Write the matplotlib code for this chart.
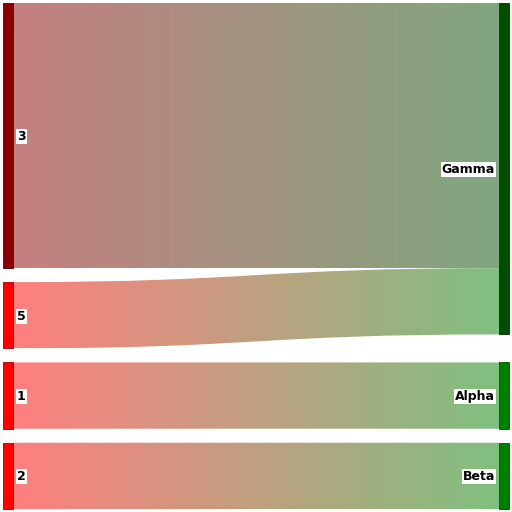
import numpy as np
import matplotlib
matplotlib.use("Agg")
import matplotlib.pyplot as plt
from matplotlib.path import Path
from matplotlib.patches import PathPatch, Rectangle
from matplotlib.colors import to_rgb

# sankey data
left_nodes = ["3", "5", "1", "2"]
right_nodes = ["Gamma", "Alpha", "Beta"]
sources = ["3", "5", "1", "2"]
targets = ["Gamma", "Gamma", "Alpha", "Beta"]
values = [4, 1, 1, 1]

node_colors = {"3": "#8b0000", "5": "#ff0000", "1": "#ff0000", "2": "#ff0000",
               "Gamma": "#004e00", "Alpha": "#008000", "Beta": "#008000"}
link_end_colors = ["#004e00", "#008000", "#008000", "#008000"]

W = H = 512
top, bottom, gap = 3, 509, 14
node_w = 10
xl, xr = 3, 499

fig = plt.figure(figsize=(5.12, 5.12), dpi=100)
ax = fig.add_axes([0, 0, 1, 1])
ax.set_xlim(0, W)
ax.set_ylim(H, 0)
ax.axis("off")

def node_value(n):
    return sum(v for s, t, v in zip(sources, targets, values) if s == n or t == n)

unit = (bottom - top - gap * (len(left_nodes) - 1)) / sum(node_value(n) for n in left_nodes)

# left column positions
ypos = {}
y = top
for n in left_nodes:
    ypos[n] = y
    y += node_value(n) * unit + gap

# outgoing offsets on source side
src_off = {}
off = {n: ypos[n] for n in left_nodes}
for i, s in enumerate(sources):
    src_off[i] = off[s]
    off[s] += values[i] * unit

# right column: align with first incoming link where possible
prev_bottom = top - gap
for n in right_nodes:
    first = min(i for i, t in enumerate(targets) if t == n)
    ypos[n] = max(prev_bottom + gap, src_off[first])
    prev_bottom = ypos[n] + node_value(n) * unit

tgt_off = {}
off = {n: ypos[n] for n in right_nodes}
for i, t in enumerate(targets):
    tgt_off[i] = off[t]
    off[t] += values[i] * unit

# links with horizontal gradient
x0, x1 = xl + node_w, xr
xm = (x0 + x1) / 2
for i in range(len(values)):
    h = values[i] * unit
    a0, a1 = src_off[i], tgt_off[i]
    verts = [(x0, a0), (xm, a0), (xm, a1), (x1, a1),
             (x1, a1 + h), (xm, a1 + h), (xm, a0 + h), (x0, a0 + h), (x0, a0)]
    codes = [Path.MOVETO, Path.CURVE4, Path.CURVE4, Path.CURVE4,
             Path.LINETO, Path.CURVE4, Path.CURVE4, Path.CURVE4, Path.CLOSEPOLY]
    patch = PathPatch(Path(verts, codes), facecolor="none", edgecolor="none")
    ax.add_patch(patch)
    c0 = np.array(to_rgb(node_colors[sources[i]]))
    c1 = np.array(to_rgb(link_end_colors[i]))
    t = np.linspace(0, 1, 256)[:, None]
    grad = (1 - t) * c0 + t * c1
    grad = 0.5 * grad + 0.5  # alpha 0.5 over white
    img = ax.imshow(grad[None, :, :], extent=[x0, x1, max(a0, a1) + h, min(a0, a1)],
                    aspect="auto", interpolation="bilinear", zorder=1)
    img.set_clip_path(patch)

# nodes and labels
for n in left_nodes + right_nodes:
    x = xl if n in left_nodes else xr
    h = node_value(n) * unit
    c = np.array(to_rgb(node_colors[n]))
    ax.add_patch(Rectangle((x, ypos[n]), node_w, h, facecolor=c,
                           edgecolor=c * 0.6, lw=0.6, zorder=3))
    if n in left_nodes:
        tx, ha = x + node_w + 4, "left"
    else:
        tx, ha = x - 4, "right"
    ax.text(tx, ypos[n] + h / 2 + 1, n, ha=ha, va="center", fontsize=9,
            fontweight="bold", color="black", zorder=4,
            bbox=dict(facecolor="white", edgecolor="none", pad=0.8))

fig.savefig("out.png", dpi=100)
